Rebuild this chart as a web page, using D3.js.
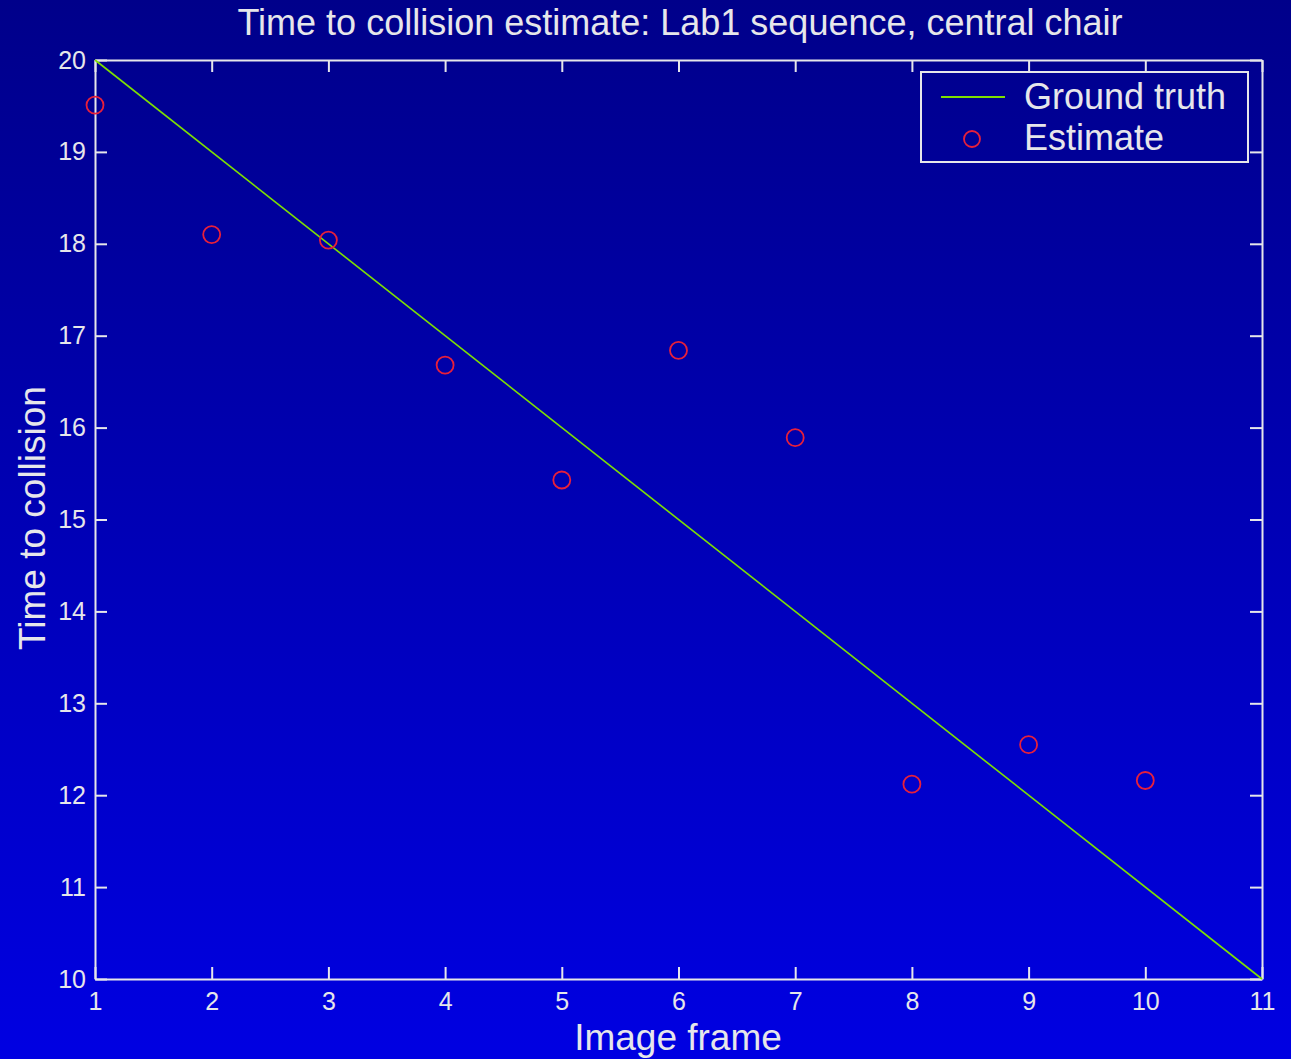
<!DOCTYPE html>
<html>
<head>
<meta charset="utf-8">
<script src="https://cdn.jsdelivr.net/npm/d3@7"></script>
<style>
  body { margin: 0; background: #0000b0; }
  svg { display: block; font-family: "Liberation Sans", Arial, Helvetica, sans-serif; }
</style>
</head>
<body>
<svg id="chart"></svg>
<script>
"use strict";

// data
var frames = [1, 2, 3, 4, 5, 6, 7, 8, 9, 10];
var estimates = [19.51, 18.10, 18.04, 16.68, 15.43, 16.84, 15.89, 12.12, 12.55, 12.16];
var truthFrames = [1, 11];
var truthValues = [20, 10];
var xTicks = [1, 2, 3, 4, 5, 6, 7, 8, 9, 10, 11];
var yTicks = [10, 11, 12, 13, 14, 15, 16, 17, 18, 19, 20];
var legendLabels = ["Ground truth", "Estimate"];

var Draw = (function() {
  var width = 1291, height = 1059;
  var margin = {top: 60, right: 29, bottom: 80, left: 95};
  var fg = "#e6e6ea";
  var lineColor = "#7ee000";
  var markColor = "#e8203a";

  var svg = d3.select("#chart")
      .attr("width", width)
      .attr("height", height);

  // background gradient, dark navy at top to bright blue at bottom
  var defs = svg.append("defs");
  var grad = defs.append("linearGradient")
      .attr("id", "bg")
      .attr("x1", 0).attr("y1", 0)
      .attr("x2", 0).attr("y2", 1);
  grad.append("stop").attr("offset", "0%").attr("stop-color", "#00008a");
  grad.append("stop").attr("offset", "100%").attr("stop-color", "#0000e2");

  svg.append("rect")
      .attr("width", width)
      .attr("height", height)
      .attr("fill", "url(#bg)");

  var x = d3.scaleLinear()
      .domain([1, 11])
      .range([margin.left, width - margin.right]);
  var y = d3.scaleLinear()
      .domain([10, 20])
      .range([height - margin.bottom, margin.top]);

  // axes, ticks pointing inward on all four sides
  var gx = svg.append("g")
      .attr("transform", `translate(0,${height - margin.bottom})`)
      .call(d3.axisBottom(x).tickValues(xTicks).tickSize(-12).tickSizeOuter(0).tickPadding(13));
  var gxt = svg.append("g")
      .attr("transform", `translate(0,${margin.top})`)
      .call(d3.axisTop(x).tickValues(xTicks).tickFormat("").tickSize(-12).tickSizeOuter(0));
  var gy = svg.append("g")
      .attr("transform", `translate(${margin.left},0)`)
      .call(d3.axisLeft(y).tickValues(yTicks).tickSize(-12).tickSizeOuter(0).tickPadding(9));
  var gyr = svg.append("g")
      .attr("transform", `translate(${width - margin.right},0)`)
      .call(d3.axisRight(y).tickValues(yTicks).tickFormat("").tickSize(-12).tickSizeOuter(0));

  [gx, gxt, gy, gyr].forEach(function(g) {
    g.selectAll("path, line").attr("stroke", fg).attr("stroke-width", 2);
    g.selectAll("text")
        .attr("fill", fg)
        .style("font-size", "25px")
        .style("font-family", "\"Liberation Sans\", Arial, sans-serif");
  });

  // ground truth line
  var line = d3.line()
      .x(function(d, i) { return x(truthFrames[i]); })
      .y(function(d) { return y(d); });
  svg.append("path")
      .datum(truthValues)
      .attr("d", line)
      .attr("fill", "none")
      .attr("stroke", lineColor)
      .attr("stroke-width", 1.6);

  // estimates
  svg.append("g")
    .selectAll("circle")
    .data(estimates)
    .join("circle")
      .attr("cx", function(d, i) { return x(frames[i]); })
      .attr("cy", function(d) { return y(d); })
      .attr("r", 8.5)
      .attr("fill", "none")
      .attr("stroke", markColor)
      .attr("stroke-width", 1.8);

  // title and axis labels
  svg.append("text")
      .attr("x", 680)
      .attr("y", 35)
      .attr("text-anchor", "middle")
      .attr("fill", fg)
      .style("font-size", "36px")
      .text("Time to collision estimate: Lab1 sequence, central chair");

  svg.append("text")
      .attr("x", 678)
      .attr("y", 1050)
      .attr("text-anchor", "middle")
      .attr("fill", fg)
      .style("font-size", "37px")
      .text("Image frame");

  svg.append("text")
      .attr("transform", `translate(45,518) rotate(-90)`)
      .attr("text-anchor", "middle")
      .attr("fill", fg)
      .style("font-size", "37px")
      .text("Time to collision");

  // legend
  var lg = svg.append("g").attr("transform", "translate(921,72)");
  lg.append("rect")
      .attr("width", 327)
      .attr("height", 90)
      .attr("fill", "none")
      .attr("stroke", fg)
      .attr("stroke-width", 2);
  lg.append("line")
      .attr("x1", 20).attr("x2", 84)
      .attr("y1", 25).attr("y2", 25)
      .attr("stroke", lineColor)
      .attr("stroke-width", 1.8);
  lg.append("circle")
      .attr("cx", 51).attr("cy", 67)
      .attr("r", 8)
      .attr("fill", "none")
      .attr("stroke", markColor)
      .attr("stroke-width", 1.8);
  lg.selectAll("text.lbl")
    .data(legendLabels)
    .join("text")
      .attr("class", "lbl")
      .attr("x", 103)
      .attr("y", function(d, i) { return 37 + i * 41; })
      .attr("fill", fg)
      .style("font-size", "36px")
      .text(function(d) { return d; });
});

Draw();
</script>
</body>
</html>
